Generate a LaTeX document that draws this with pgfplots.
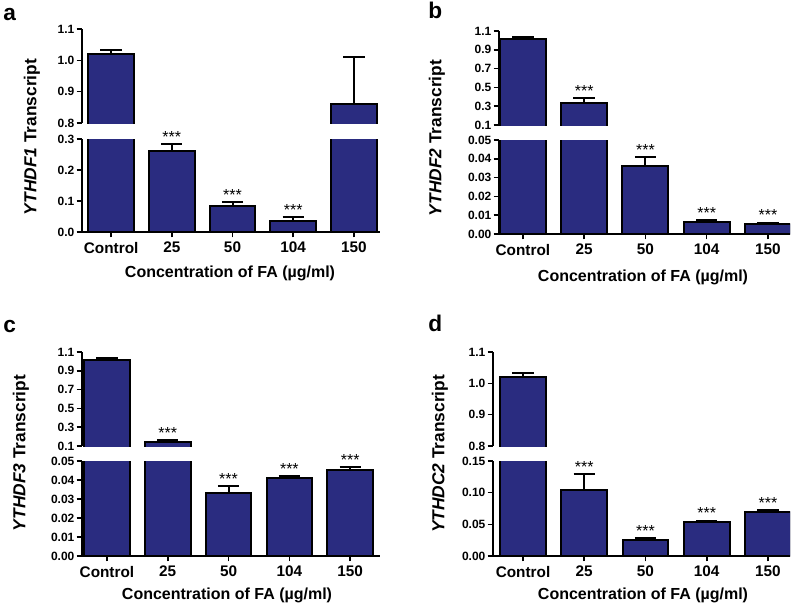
\documentclass[border=0pt]{standalone}
\usepackage{pgfplots}
\pgfplotsset{compat=1.18}
\usepackage{fontspec}
\setmainfont{Liberation Sans}
\definecolor{barblue}{RGB}{42,44,128}

\pgfplotsset{
  base/.style={scale only axis, anchor=south west,
    axis line style={line width=1.2pt, black},
    major tick style={line width=1.2pt, black},
    tick align=outside, major tick length=4pt,
    clip=true, scaled y ticks=false,
    /pgf/number format/assume math mode=true,
    yticklabel style={font=\fontsize{9}{10}\selectfont\bfseries, inner sep=1.5pt},
  },
  lowerax/.style={base, axis x line*=bottom, axis y line*=left,
    xtick={0,1,2,3,4}, xticklabels={Control,25,50,104,150},
    xticklabel style={font=\fontsize{11.5}{13}\selectfont\bfseries},
    ymin=0},
  upperax/.style={base, axis y line*=left, axis x line=none},
  eb/.style={error bars/.cd, y dir=plus, y explicit,
    error bar style={line width=1.5pt, draw=black},
    error mark=|, error mark options={line width=1.5pt, mark size=8pt, draw=black}},
  bars/.style={ybar, bar width=0.75, fill=barblue, draw=black, line width=1.5pt, eb},
  ubar/.style={fill=barblue, draw=black, line width=1.5pt, mark=none},
  errs/.style={draw=none, mark=none, eb},
  stars/.style={draw=none, mark=none, nodes near coords, point meta=explicit symbolic,
    nodes near coords style={anchor=south, text=black, font=\fontsize{12}{12}\selectfont, inner sep=1pt}},
  p1/.style={yticklabel style={/pgf/number format/fixed, /pgf/number format/fixed zerofill, /pgf/number format/precision=1}},
  p2/.style={yticklabel style={/pgf/number format/fixed, /pgf/number format/fixed zerofill, /pgf/number format/precision=2}},
}
\pgfplotstableread{
x y e
0 1.02 0.012
1 0.26 0.025
2 0.085 0.012
3 0.037 0.011
4 0.86 0.15
}\dataA
\pgfplotstableread{
x y e
0 1.02 0.02
1 0.33 0.06
2 0.036 0.005
3 0.0065 0.001
4 0.0053 0.0008
}\dataB
\pgfplotstableread{
x y e
0 1.02 0.02
1 0.145 0.02
2 0.033 0.004
3 0.041 0.0012
4 0.0455 0.0012
}\dataC
\pgfplotstableread{
x y e
0 1.02 0.012
1 0.105 0.025
2 0.025 0.003
3 0.053 0.003
4 0.07 0.003
}\dataD

\begin{document}
\begin{tikzpicture}
\path[use as bounding box] (0,0) rectangle (600pt,-458.25pt);

% ---------- Panel a ----------
\begin{axis}[lowerax, p1, at={(61.5pt,-174pt)}, width=223.5pt, height=69.75pt,
  xmin=-0.48, xmax=4.43, ymax=0.3, ytick={0,0.1,0.2,0.3}]
\addplot[bars] table[x=x, y=y, y error=e] {\dataA};
\addplot[stars] coordinates {(1,0.285)[***] (2,0.097)[***] (3,0.048)[***]};
\end{axis}
\begin{axis}[upperax, p1, at={(61.5pt,-92.25pt)}, width=223.5pt, height=70.5pt,
  xmin=-0.48, xmax=4.43, ymin=0.8, ymax=1.1, ytick={0.8,0.9,1.0,1.1}]
\addplot[ubar] coordinates {(-0.375,0) (-0.375,1.02) (0.375,1.02) (0.375,0)};
\addplot[ubar] coordinates {(3.625,0) (3.625,0.86) (4.375,0.86) (4.375,0)};
\addplot[errs] table[x=x, y=y, y error=e] {\dataA};
\end{axis}

% ---------- Panel b ----------
\begin{axis}[lowerax, p2, at={(374.25pt,-175.5pt)}, width=218.25pt, height=70.5pt,
  xmin=-0.39, xmax=4.36, ymax=0.05, ytick={0,0.01,0.02,0.03,0.04,0.05}]
\addplot[bars] table[x=x, y=y, y error=e] {\dataB};
\addplot[stars] coordinates {(2,0.041)[***] (3,0.0075)[***] (4,0.0061)[***]};
\end{axis}
\begin{axis}[upperax, p1, at={(374.25pt,-93.75pt)}, width=218.25pt, height=70.5pt,
  xmin=-0.39, xmax=4.36, ymin=0.1, ymax=1.1, ytick={0.1,0.3,0.5,0.7,0.9,1.1}]
\addplot[ubar] coordinates {(-0.375,0) (-0.375,1.02) (0.375,1.02) (0.375,0)};
\addplot[ubar] coordinates {(0.625,0) (0.625,0.33) (1.375,0.33) (1.375,0)};
\addplot[errs] table[x=x, y=y, y error=e] {\dataB};
\addplot[stars] coordinates {(1,0.39)[***]};
\end{axis}

% ---------- Panel c ----------
\begin{axis}[lowerax, p2, at={(61.5pt,-417pt)}, width=223.5pt, height=71.25pt,
  xmin=-0.41, xmax=4.49, ymax=0.05, ytick={0,0.01,0.02,0.03,0.04,0.05}]
\addplot[bars] table[x=x, y=y, y error=e] {\dataC};
\addplot[stars] coordinates {(2,0.037)[***] (3,0.0422)[***] (4,0.0467)[***]};
\end{axis}
\begin{axis}[upperax, p1, at={(61.5pt,-334.5pt)}, width=223.5pt, height=70.5pt,
  xmin=-0.41, xmax=4.49, ymin=0.1, ymax=1.1, ytick={0.1,0.3,0.5,0.7,0.9,1.1}]
\addplot[ubar] coordinates {(-0.375,0) (-0.375,1.02) (0.375,1.02) (0.375,0)};
\addplot[ubar] coordinates {(0.625,0) (0.625,0.145) (1.375,0.145) (1.375,0)};
\addplot[errs] table[x=x, y=y, y error=e] {\dataC};
\addplot[stars] coordinates {(1,0.165)[***]};
\end{axis}

% ---------- Panel d ----------
\begin{axis}[lowerax, p2, at={(369.75pt,-417pt)}, width=222.75pt, height=71.25pt,
  xmin=-0.49, xmax=4.36, ymax=0.15, ytick={0,0.05,0.10,0.15}]
\addplot[bars] table[x=x, y=y, y error=e] {\dataD};
\addplot[stars] coordinates {(1,0.13)[***] (2,0.028)[***] (3,0.056)[***] (4,0.073)[***]};
\end{axis}
\begin{axis}[upperax, p1, at={(369.75pt,-334.5pt)}, width=222.75pt, height=70.5pt,
  xmin=-0.49, xmax=4.36, ymin=0.8, ymax=1.1, ytick={0.8,0.9,1.0,1.1}]
\addplot[ubar] coordinates {(-0.375,0) (-0.375,1.02) (0.375,1.02) (0.375,0)};
\addplot[errs] table[x=x, y=y, y error=e] {\dataD};
\end{axis}

% ---------- Labels ----------
\begin{scope}[every node/.style={font=\fontsize{13}{15}\selectfont\bfseries}]
\node[rotate=90] at (24pt,-102.75pt) {\textit{YTHDF1} Transcript};
\node[rotate=90] at (327.75pt,-103.5pt) {\textit{YTHDF2} Transcript};
\node[rotate=90] at (15.75pt,-339.75pt) {\textit{YTHDF3} Transcript};
\node[rotate=90] at (330pt,-340.5pt) {\textit{YTHDC2} Transcript};
\end{scope}
\begin{scope}[every node/.style={font=\fontsize{12}{14}\selectfont\bfseries}]
\node at (172.5pt,-204.75pt) {Concentration of FA (µg/ml)};
\node at (482.25pt,-207.75pt) {Concentration of FA (µg/ml)};
\node at (170.25pt,-446.25pt) {Concentration of FA (µg/ml)};
\node at (482.25pt,-446.25pt) {Concentration of FA (µg/ml)};
\end{scope}
\begin{scope}[every node/.style={font=\fontsize{17}{18}\selectfont\bfseries, anchor=base west, inner sep=0pt}]
\node at (2.25pt,-15pt) {a};
\node at (321pt,-13.5pt) {b};
\node at (2.25pt,-249pt) {c};
\node at (321pt,-248.25pt) {d};
\end{scope}
\end{tikzpicture}
\end{document}
